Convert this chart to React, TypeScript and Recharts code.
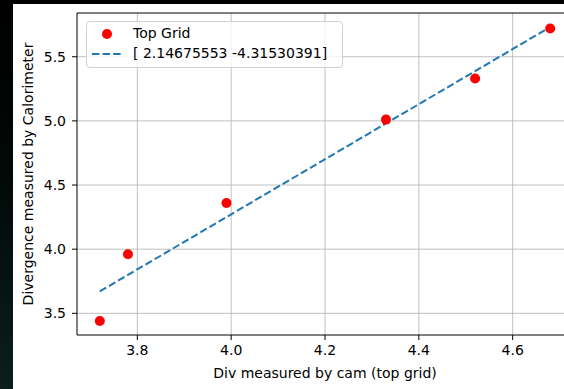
import React from "react"
import {
  ComposedChart,
  Scatter,
  Line,
  XAxis,
  YAxis,
  CartesianGrid,
  Label,
  ReferenceLine,
} from "recharts"

const camDiv = [3.72, 3.78, 3.99, 4.33, 4.52, 4.68]
const caloDiv = [3.44, 3.96, 4.36, 5.01, 5.33, 5.72]
// linear fit [2.14675553 -4.31530391] evaluated at the same x values
const fitDiv = [3.6706, 3.7994, 4.2502, 4.9801, 5.388, 5.7315]

const xTicks = [3.8, 4.0, 4.2, 4.4, 4.6]
const yTicks = [3.5, 4.0, 4.5, 5.0, 5.5]
const xDomain = [3.6714, 4.7286]
const yDomain = [3.331, 5.841]

const fitLabel = "[ 2.14675553 -4.31530391]"
const scatterLabel = "Top Grid"

const data = camDiv.map((x, i) => ({ x, y: caloDiv[i], fit: fitDiv[i] }))

const FONT = "'DejaVu Sans', sans-serif"

const LegendBox = () => (
  <div
    style={{
      position: "absolute",
      left: 73,
      top: 17,
      width: 257,
      height: 47,
      boxSizing: "border-box",
      border: "1px solid #d0d0d0",
      borderRadius: 4,
      background: "rgba(255,255,255,0.8)",
      fontFamily: FONT,
      fontSize: 14,
      color: "#000",
    }}
  >
    <svg width={40} height={46} style={{ position: "absolute", left: 0, top: 0 }}>
      <circle cx={20} cy={12} r={5} fill="#ff0000" />
      <line x1={5} x2={34} y1={32} y2={32} stroke="#1f77b4" strokeWidth={2} strokeDasharray="7.4 3.2" />
    </svg>
    <div style={{ position: "absolute", left: 46, top: 3, lineHeight: "17px", whiteSpace: "nowrap" }}>
      {scatterLabel}
    </div>
    <div style={{ position: "absolute", left: 46, top: 23, lineHeight: "17px", whiteSpace: "nowrap" }}>
      {fitLabel}
    </div>
  </div>
)

export default function App() {
  return (
    <div
      style={{
        position: "fixed",
        left: 0,
        top: 0,
        width: 620,
        height: 389,
        overflow: "hidden",
        background: "#000",
      }}
    >
      <style>{"html, body { margin: 0; overflow: hidden; }"}</style>
      <div
        style={{
          position: "absolute",
          left: 0,
          top: 0,
          width: 13,
          height: 389,
          background: "linear-gradient(to bottom, #000 0%, #020808 45%, #0a1e1e 100%)",
        }}
      />
      <div
        style={{
          position: "absolute",
          left: 13,
          top: 4,
          width: 600,
          height: 385,
          background: "#fff",
          overflow: "hidden",
        }}
      >
        <ComposedChart
          width={600}
          height={385}
          data={data}
          margin={{ top: 9, right: 40, left: 0, bottom: 0 }}
          style={{ fontFamily: FONT }}
        >
          <CartesianGrid stroke="#b0b0b0" strokeWidth={0.8} horizontalValues={yTicks} verticalValues={xTicks} />
          <XAxis
            type="number"
            dataKey="x"
            domain={xDomain}
            ticks={xTicks}
            allowDataOverflow
            height={54}
            tickSize={5}
            tickMargin={5}
            tick={{ fill: "#000", fontSize: 14 }}
            tickFormatter={(v) => v.toFixed(1)}
            stroke="#000"
          >
            <Label
              content={({ viewBox }: any) => (
                <text
                  x={viewBox.x + viewBox.width / 2}
                  y={viewBox.y + 43}
                  textAnchor="middle"
                  fontSize={14}
                  fill="#000"
                  fontFamily={FONT}
                >
                  Div measured by cam (top grid)
                </text>
              )}
            />
          </XAxis>
          <YAxis
            type="number"
            domain={yDomain}
            ticks={yTicks}
            allowDataOverflow
            width={64}
            tickSize={5}
            tickMargin={6}
            tick={{ fill: "#000", fontSize: 14 }}
            tickFormatter={(v) => v.toFixed(1)}
            stroke="#000"
          >
            <Label
              content={({ viewBox }: any) => {
                const cx = viewBox.x + 15
                const cy = viewBox.y + viewBox.height / 2
                return (
                  <text
                    x={cx}
                    y={cy}
                    transform={`rotate(-90 ${cx} ${cy})`}
                    textAnchor="middle"
                    dominantBaseline="central"
                    fontSize={14}
                    fill="#000"
                    fontFamily={FONT}
                  >
                    Divergence measured by Calorimeter
                  </text>
                )
              }}
            />
          </YAxis>
          <ReferenceLine y={yDomain[1]} stroke="#000" strokeWidth={1} />
          <Scatter
            dataKey="y"
            isAnimationActive={false}
            shape={(p: any) => <circle cx={p.cx} cy={p.cy} r={5} fill="#ff0000" />}
          />
          <Line
            dataKey="fit"
            type="linear"
            stroke="#1f77b4"
            strokeWidth={2}
            strokeDasharray="7.4 3.2"
            dot={false}
            activeDot={false}
            isAnimationActive={false}
          />
        </ComposedChart>
        <LegendBox />
      </div>
    </div>
  )
}
